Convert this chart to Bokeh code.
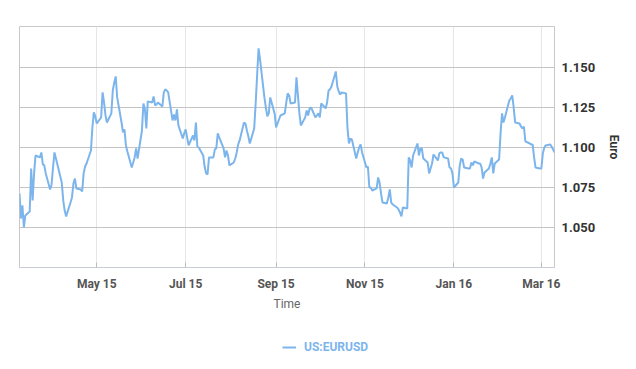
import pandas as pd
from bokeh.plotting import figure
from bokeh.layouts import column
from bokeh.models import (ColumnDataSource, DatetimeTickFormatter, MonthsTicker,
                          FixedTicker, NumeralTickFormatter, Legend, LegendItem, Range1d)
from bokeh.embed import file_html
from bokeh.resources import INLINE

series_name = "US:EURUSD"
x_title = "Time"
y_title = "Euro"
start_date = "2015-03-09"
y_ticks = [1.050, 1.075, 1.100, 1.125, 1.150]

eurusd = [
    1.0713, 1.0556, 1.0638, 1.0500, 1.0575, 1.0600, 1.0869, 1.0669, 1.0838, 1.0950,
    1.0938, 1.0969, 1.0894, 1.0888, 1.0838, 1.0738, 1.0769, 1.0875, 1.0969, 1.0931,
    1.0819, 1.0781, 1.0669, 1.0606, 1.0569, 1.0656, 1.0688, 1.0775, 1.0806, 1.0744,
    1.0738, 1.0725, 1.0838, 1.0881, 1.0900, 1.0981, 1.1125, 1.1219, 1.1194, 1.1150,
    1.1188, 1.1344, 1.1281, 1.1200, 1.1156, 1.1213, 1.1356, 1.1406, 1.1444, 1.1313,
    1.1156, 1.1094, 1.1113, 1.1013, 1.0975, 1.0875, 1.0906, 1.0938, 1.0994, 1.0931,
    1.1106, 1.1275, 1.1244, 1.1119, 1.1288, 1.1281, 1.1319, 1.1263, 1.1269, 1.1281,
    1.1256, 1.1344, 1.1363, 1.1356, 1.1344, 1.1169, 1.1206, 1.1169, 1.1238,
    1.1138, 1.1056, 1.1088, 1.1113, 1.1063, 1.1013, 1.1075, 1.1044, 1.1156, 1.1006,
    1.1000, 1.0950, 1.0881, 1.0838, 1.0831, 1.0938, 1.0938, 1.0988, 1.0994, 1.1088,
    1.1063, 1.0994, 1.0938, 1.0981, 1.0950, 1.0888, 1.0906, 1.0931, 1.0969, 1.1019,
    1.1044, 1.1156, 1.1150, 1.1106, 1.1069, 1.1025, 1.1119, 1.1275, 1.1450, 1.1619,
    1.1550, 1.1313, 1.1250, 1.1194, 1.1213, 1.1313, 1.1213, 1.1125, 1.1150, 1.1175,
    1.1200, 1.1213, 1.1281, 1.1338, 1.1325, 1.1275, 1.1281, 1.1438, 1.1325, 1.1213,
    1.1138, 1.1188, 1.1231, 1.1200, 1.1244, 1.1250, 1.1188, 1.1200, 1.1213, 1.1188,
    1.1275, 1.1244, 1.1281, 1.1356, 1.1363, 1.1381, 1.1475, 1.1381, 1.1350, 1.1331,
    1.1344, 1.1338, 1.1119, 1.1025, 1.1056, 1.1050, 1.0931, 1.0969, 1.1000, 1.1019,
    1.0969, 1.0875, 1.0881, 1.0750, 1.0750, 1.0731, 1.0744, 1.0813, 1.0781, 1.0713,
    1.0656, 1.0650, 1.0688, 1.0738, 1.0656, 1.0644, 1.0625, 1.0613, 1.0594,
    1.0569, 1.0625, 1.0619, 1.0938, 1.0919, 1.0875, 1.0950, 1.1025, 1.0950, 1.0994,
    1.0994, 1.0931, 1.0906, 1.0838, 1.0869, 1.0900, 1.0956, 1.0919, 1.0963, 1.0969,
    1.0969, 1.0938, 1.0931, 1.0875, 1.0869, 1.0838, 1.0750, 1.0781, 1.0888, 1.0931,
    1.0925, 1.0875, 1.0869, 1.0869, 1.0906, 1.0888, 1.0913, 1.0900, 1.0900, 1.0875,
    1.0806, 1.0844, 1.0869, 1.0900, 1.0938, 1.0838, 1.0900, 1.0925, 1.1088, 1.1213,
    1.1156, 1.1188, 1.1294, 1.1306, 1.1325, 1.1250, 1.1156, 1.1150, 1.1131, 1.1119,
    1.1131, 1.1038, 1.1025, 1.1019, 1.1019, 1.0938, 1.0875, 1.0869, 1.0869, 1.0963,
    1.1000, 1.1013, 1.1019, 1.1006, 1.0988, 1.0969,
]

LINE_COLOR = "#7cb5ec"

dates = pd.bdate_range(start=start_date, periods=len(eurusd))
source = ColumnDataSource(data=dict(date=dates, value=eurusd))

p = figure(frame_width=535, frame_height=241, x_axis_type="datetime", y_axis_location="right",
           output_backend="svg", toolbar_location=None,
           min_border_left=19, min_border_top=26, min_border_right=70, min_border_bottom=50)
p.x_range = Range1d(dates[0], dates[-1])
p.y_range = Range1d(1.025, 1.1756)

r = p.line("date", "value", source=source, line_color=LINE_COLOR, line_width=2)

p.outline_line_color = "#c8c8c8"
p.background_fill_color = "white"
p.border_fill_color = "white"

# x axis
xa = p.xaxis[0]
xa.ticker = MonthsTicker(months=[0, 2, 4, 6, 8, 10])
xa.formatter = DatetimeTickFormatter(months="%b %y", days="%b %y")
xa.major_tick_in = 5
xa.major_tick_out = 0
xa.minor_tick_line_color = None
xa.minor_tick_in = 0
xa.minor_tick_out = 0
xa.major_tick_line_color = "#b8bcc4"
xa.axis_line_color = "#c8ccd4"
xa.major_label_text_font = "Roboto"
xa.major_label_text_font_style = "bold"
xa.major_label_text_font_size = "12px"
xa.major_label_text_color = "#555555"
xa.major_label_standoff = 9
xa.axis_label = x_title
xa.axis_label_text_font = "Roboto"
xa.axis_label_text_font_style = "normal"
xa.axis_label_text_font_size = "12px"
xa.axis_label_text_color = "#666666"
xa.axis_label_standoff = 3

# y axis
ya = p.yaxis[0]
ya.ticker = FixedTicker(ticks=y_ticks)
ya.formatter = NumeralTickFormatter(format="0.000")
ya.major_tick_line_color = None
ya.minor_tick_line_color = None
ya.major_tick_in = 0
ya.major_tick_out = 0
ya.minor_tick_in = 0
ya.minor_tick_out = 0
ya.axis_line_color = None
ya.major_label_text_font = "Roboto"
ya.major_label_text_font_style = "bold"
ya.major_label_text_font_size = "13px"
ya.major_label_text_color = "#333333"
ya.major_label_standoff = 7
ya.axis_label = y_title
ya.axis_label_text_font = "Roboto"
ya.axis_label_text_font_style = "bold"
ya.axis_label_text_font_size = "12px"
ya.axis_label_text_color = "#333333"
ya.axis_label_standoff = 9

p.xgrid.grid_line_color = "#e6e6e6"
p.xgrid.ticker = xa.ticker
p.ygrid.grid_line_color = "#c4c4c4"
p.ygrid.ticker = ya.ticker

# legend strip below the chart (its swatch line lies outside the strip's visible range)
lf = figure(width=p.min_border_left + 535 + 70, height=44, output_backend="svg",
            toolbar_location=None, min_border=0,
            x_range=Range1d(0, 1), y_range=Range1d(0, 1))
lf.axis.visible = False
lf.grid.visible = False
lf.outline_line_color = None
lr = lf.line(x=[0, 1], y=[-5, -5], line_color=LINE_COLOR, line_width=2)
legend = Legend(items=[LegendItem(label=series_name, renderers=[lr])],
                orientation="horizontal", location=(263, 4),
                border_line_color=None, background_fill_alpha=0,
                glyph_width=14, label_standoff=8, padding=0, margin=0,
                label_text_font="Roboto", label_text_font_style="bold",
                label_text_font_size="12px", label_text_color=LINE_COLOR)
lf.add_layout(legend, "center")

layout = column(p, lf, spacing=0)
open("out.html", "w").write(file_html(layout, INLINE))
